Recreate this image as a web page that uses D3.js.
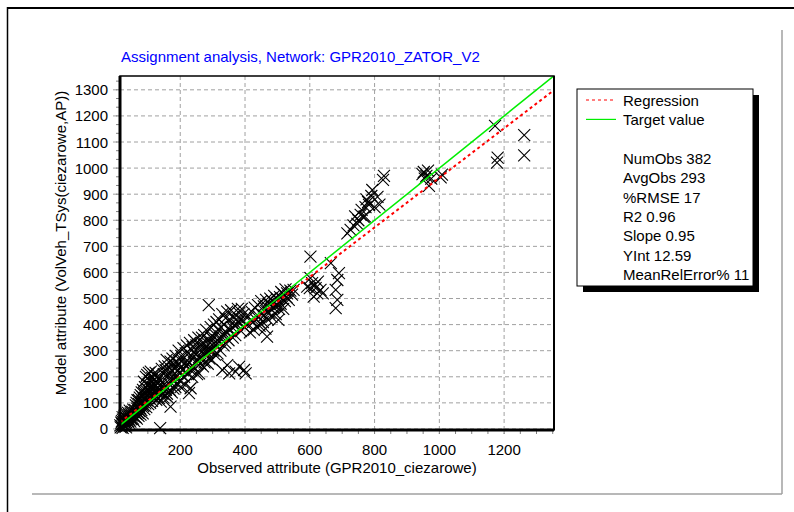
<!DOCTYPE html>
<html><head><meta charset="utf-8">
<script src="https://cdn.jsdelivr.net/npm/d3@7"></script>
<style>body{margin:0;background:#fff;overflow:hidden} text{font-family:"Liberation Sans",Arial,sans-serif}</style>
</head><body><svg id="c" width="794" height="512"></svg>
<script>
// [observed, modelled]
const points = [
[15,14],[16,6],[18,24],[19,10],[20,30],[21,18],[22,4],[23,36],[24,20],[25,42],[26,12],[27,28],[28,50],[29,22],[30,34],[31,8],[32,44],[33,26],[34,58],[35,38],[36,16],[37,48],[38,30],[39,62],[40,40],[41,24],[42,55],[43,34],[44,70],[45,46],[46,28],[47,60],[48,38],[50,52],[52,66],[54,40],[55,74],[57,48],[58,30],[60,62],
[61,72],[62,45],[63,90],[64,58],[65,100],[66,40],[67,78],[68,110],[69,62],[70,85],[71,50],[72,111],[73,95],[74,68],[75,120],[76,80],[77,55],[78,130],[79,98],[80,72],[81,140],[82,105],[83,124],[84,60],[85,150],[86,88],[87,115],[88,181],[89,76],[90,135],[91,160],[92,98],[93,120],[94,200],[95,84],[96,145],[97,110],[98,207],[99,130],[100,170],[101,95],[102,150],[103,215],[104,118],[105,188],[106,140],[107,100],[108,165],[109,220],[110,125],[111,178],[112,150],[113,108],[114,195],[115,135],[116,160],[117,210],[118,120],[119,175],[120,145],[121,190],[122,130],[123,165],[124,215],[125,150],[126,112],[127,180],[128,140],[129,200],[130,160],
[132,150],[134,118],[135,195],[137,140],[138,3],[139,185],[140,105],[142,160],[143,230],[145,135],[146,175],[148,120],[149,210],[150,160],[152,240],[153,130],[155,225],[156,150],[158,265],[159,135],[160,200],[162,120],[163,240],[165,175],[166,210],[168,150],[170,86],[170,258],[171,195],[173,225],[174,140],[176,270],[177,185],[179,155],[180,250],[182,200],[183,230],[185,160],[186,280],[188,200],[190,255],[191,175],[193,225],[195,300],[196,250],[198,185],[200,235],[201,160],[203,280],[205,205],[206,265],[208,225],[210,310],[212,200],[213,250],[215,170],[217,290],[218,240],[220,320],[222,250],[224,210],[225,290],[227,137],[228,255],[230,330],[232,156],[233,225],[235,280],[237,200],[238,315],[240,240],[242,296],[243,340],[245,230],[247,285],[248,255],[250,320],[252,210],[254,265],[256,350],[258,213],[258,275],[260,300],
[262,250],[264,320],[265,275],[267,350],[268,329],[270,240],[272,300],[274,360],[275,255],[277,310],[279,280],[280,380],[282,295],[284,340],[285,250],[287,310],[288,475],[289,300],[290,270],[292,330],[294,390],[295,300],[297,350],[298,265],[300,345],[302,300],[304,400],[305,330],[307,285],[309,360],[310,320],[312,410],[314,340],[315,290],[317,380],[319,335],[320,420],[322,350],[324,300],[325,390],[327,355],[330,440],[330,226],[332,360],[334,320],[335,400],[337,365],[339,330],[340,425],[342,370],[345,450],[345,245],[347,385],[349,340],[351,213],[352,420],[355,380],[357,455],[360,390],[362,350],[365,430],[368,395],[370,360],[371,418],[371,220],[375,400],[378,460],[380,410],[382,444],[382,239],[385,420],[388,375],[390,460],[393,415],[395,440],[397,226],[398,390],[402,213],
[405,400],[410,430],[415,370],[420,450],[425,410],[427,380],[430,465],[433,420],[436,392],[440,475],[443,430],[445,395],[448,405],[450,490],[452,440],[455,410],[458,470],[460,435],[463,385],[465,495],[468,354],[468,450],[470,420],[473,480],[475,445],[478,500],[480,460],[482,430],[485,490],[488,465],[490,510],[493,470],[495,440],[498,500],[500,475],[503,418],[505,460],[508,505],[510,480],[512,525],[515,500],[518,460],[520,515],[523,490],[525,535],[528,505],[530,520],[535,495],[540,530],[545,515],[550,533],
[592,546],[600,540],[602,578],[602,661],[607,559],[612,507],[615,550],[618,540],[623,520],[625,565],[633,533],[640,520],[665,636],[680,533],[680,463],[685,571],[685,495],[690,597],
[716,750],[726,763],[735,780],[740,815],[747,786],[750,800],[757,821],[760,840],[766,813],[770,815],[772,850],[775,880],[780,870],[783,859],[790,893],[793,916],[800,850],[809,890],[815,860],[826,955],[829,970],
[948,977],[952,985],[955,960],[960,970],[965,990],[968,932],[975,960],[1004,964],[1008,975],
[1172,1162],[1262,1126],[1262,1049],[1180,1040],[1178,1021]
];
const xTicks = [200,400,600,800,1000,1200];
const yTicks = [0,100,200,300,400,500,600,700,800,900,1000,1100,1200,1300];
const legendItems = ["Regression","Target value"];
const stats = ["NumObs 382","AvgObs 293","%RMSE 17","R2 0.96","Slope 0.95","YInt 12.59","MeanRelError% 11"];
const regSlope = 0.95, regIntercept = 12.59;
const title = "Assignment analysis, Network: GPR2010_ZATOR_V2";
const xTitle = "Observed attribute (GPR2010_ciezarowe)";
const yTitle = "Model attribute (VolVeh_TSys(ciezarowe,AP))";

const svg = d3.select("#c");
const L=120,R=554,T=76,B=430;
const xDom=[14,1354], yDom=[-4,1353];
const x = d3.scaleLinear().domain(xDom).range([L,R]);
const y = d3.scaleLinear().domain(yDom).range([B,T]);
const fs = 15;

// outer frame
svg.append("line").attr("x1",7).attr("x2",794).attr("y1",8).attr("y2",8).attr("stroke","#000").attr("stroke-width",2);
svg.append("line").attr("x1",7.5).attr("x2",7.5).attr("y1",7).attr("y2",512).attr("stroke","#000").attr("stroke-width",1.5);
svg.append("line").attr("x1",782).attr("x2",782).attr("y1",30).attr("y2",494).attr("stroke","#a0a0a0").attr("stroke-width",1.5);
svg.append("line").attr("x1",32).attr("x2",782).attr("y1",494).attr("y2",494).attr("stroke","#a0a0a0").attr("stroke-width",1.5);

svg.append("text").attr("x",121).attr("y",62).attr("fill","#0000ff").attr("font-size",fs).text(title);

// grid
const g = svg.append("g");
g.selectAll(".gx").data(xTicks).join("line").attr("x1",d=>x(d)).attr("x2",d=>x(d)).attr("y1",T).attr("y2",B+4)
 .attr("stroke","#a0a0a0").attr("stroke-dasharray","4,3");
g.selectAll(".gy").data(yTicks).join("line").attr("x1",L-7).attr("x2",R).attr("y1",d=>y(d)).attr("y2",d=>y(d))
 .attr("stroke","#a0a0a0").attr("stroke-dasharray","4,3");

// minor ticks
const xMinor = d3.range(50,1354,50).filter(v=>v>xDom[0]);
g.selectAll(".mx").data(xMinor).join("line").attr("x1",d=>x(d)).attr("x2",d=>x(d)).attr("y1",B).attr("y2",B+4).attr("stroke","#808080");
const yMinor = d3.range(0,1353,100/3).filter(v=>v>yDom[0]);
g.selectAll(".my").data(yMinor).join("line").attr("x1",L-4).attr("x2",L).attr("y1",d=>y(d)).attr("y2",d=>y(d)).attr("stroke","#808080");

// points
const s=6;
const pg = svg.append("g").attr("stroke","#000").attr("stroke-width",1.1).attr("fill","none");
pg.selectAll("path").data(points).join("path")
 .attr("d",d=>{const cx=x(d[0]),cy=y(d[1]);return `M${cx-s},${cy-s}L${cx+s},${cy+s}M${cx-s},${cy+s}L${cx+s},${cy-s}`;});

// clip for lines
svg.append("clipPath").attr("id","clp").append("rect").attr("x",L).attr("y",T).attr("width",R-L).attr("height",B-T);
svg.append("line").attr("clip-path","url(#clp)")
 .attr("x1",x(xDom[0])).attr("y1",y(regSlope*xDom[0]+regIntercept)).attr("x2",x(xDom[1])).attr("y2",y(regSlope*xDom[1]+regIntercept))
 .attr("stroke","#ff0000").attr("stroke-width",2).attr("stroke-dasharray","3,3");
svg.append("line").attr("clip-path","url(#clp)")
 .attr("x1",x(xDom[0])).attr("y1",y(xDom[0])).attr("x2",x(xDom[1])).attr("y2",y(xDom[1]))
 .attr("stroke","#00ee00").attr("stroke-width",1.5);

// plot frame
svg.append("rect").attr("x",L).attr("y",T).attr("width",R-L).attr("height",B-T).attr("fill","none").attr("stroke","#000").attr("stroke-width",1.5);
svg.append("line").attr("x1",L).attr("x2",L).attr("y1",T).attr("y2",B+1.5).attr("stroke","#000").attr("stroke-width",3);
svg.append("line").attr("x1",L-1.5).attr("x2",R).attr("y1",B).attr("y2",B).attr("stroke","#000").attr("stroke-width",3);
svg.append("line").attr("x1",R).attr("x2",R).attr("y1",T).attr("y2",B).attr("stroke","#000").attr("stroke-width",2);

// tick labels
svg.selectAll(".xl").data(xTicks).join("text").attr("x",d=>x(d)).attr("y",455).attr("text-anchor","middle").attr("font-size",fs).text(d=>d);
svg.selectAll(".yl").data(yTicks).join("text").attr("x",108).attr("y",d=>y(d)+5.5).attr("text-anchor","end").attr("font-size",fs).text(d=>d);
svg.append("text").attr("x",(L+R)/2).attr("y",473).attr("text-anchor","middle").attr("font-size",fs).text(xTitle);
svg.append("text").attr("transform","translate(66,243) rotate(-90)").attr("text-anchor","middle").attr("font-size",fs).text(yTitle);

// legend
const lx=577, ly=89, lw=176, lh=197;
svg.append("rect").attr("x",lx+6).attr("y",ly+6).attr("width",lw).attr("height",lh).attr("fill","#000");
svg.append("rect").attr("x",lx).attr("y",ly).attr("width",lw).attr("height",lh).attr("fill","#fff").attr("stroke","#000").attr("stroke-width",1);
const lineH = 19.4, ty0 = 100;
const lstyles = [{c:"#ff0000",d:"3,3",w:1.2},{c:"#00ee00",d:null,w:1.2}];
legendItems.forEach((t,i)=>{
  const yy = ty0 + i*lineH;
  svg.append("line").attr("x1",586).attr("x2",616).attr("y1",yy).attr("y2",yy).attr("stroke",lstyles[i].c).attr("stroke-width",lstyles[i].w).attr("stroke-dasharray",lstyles[i].d);
  svg.append("text").attr("x",623).attr("y",yy+5.5).attr("font-size",fs).text(t);
});
stats.forEach((t,i)=>{
  const yy = ty0 + (i+3)*lineH;
  svg.append("text").attr("x",623).attr("y",yy+5.5).attr("font-size",fs).text(t);
});
</script></body></html>
